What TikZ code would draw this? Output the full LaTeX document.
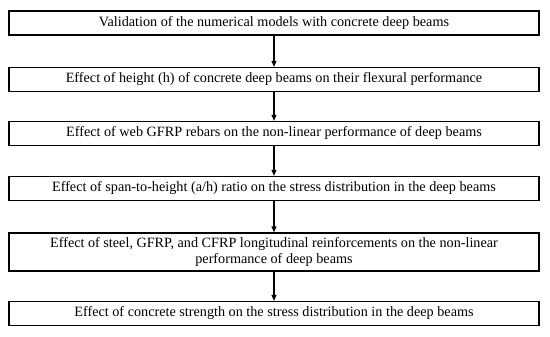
\documentclass[tikz,border=0pt]{standalone}
\usepackage{fontspec}
\setmainfont{Liberation Serif}
\usetikzlibrary{arrows.meta}
\begin{document}
\begin{tikzpicture}[x=1pt,y=-1pt,
  stepbox/.style={draw=black, line width=1.3pt, minimum width=530pt, minimum height=24pt, inner sep=0pt, align=center, font=\fontsize{14.2}{15.5}\selectfont},
  conn/.style={-{Triangle[length=6pt,width=5pt]}, line width=1.1pt}]
\useasboundingbox (0,0) rectangle (550,337);
\node[stepbox] (b1) at (274,23) {Validation of the numerical models with concrete deep beams};
\node[stepbox] (b2) at (274,79.5) {Effect of height (h) of concrete deep beams on their flexural performance};
\node[stepbox] (b3) at (274,133.5) {Effect of web GFRP rebars on the non-linear performance of deep beams};
\node[stepbox] (b4) at (274,188.5) {Effect of span-to-height (a/h) ratio on the stress distribution in the deep beams};
\node[stepbox, minimum height=38pt] (b5) at (274,252) {Effect of steel, GFRP, and CFRP longitudinal reinforcements on the non-linear\\performance of deep beams};
\node[stepbox] (b6) at (274,313.5) {Effect of concrete strength on the stress distribution in the deep beams};
\foreach \a/\b in {b1/b2,b2/b3,b3/b4,b4/b5,b5/b6}
  \draw[conn] (\a.south) -- (\b.north);
\end{tikzpicture}
\end{document}
